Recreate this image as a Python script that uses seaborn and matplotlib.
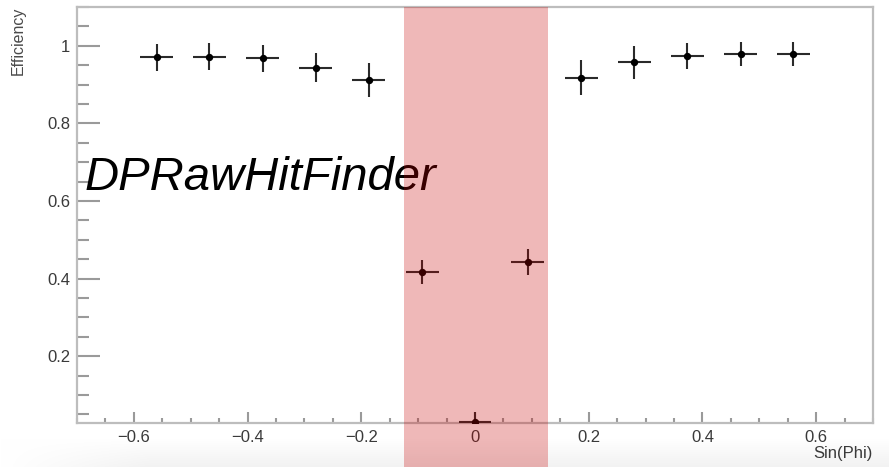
import numpy as np
import pandas as pd
import matplotlib
matplotlib.use("Agg")
import matplotlib.pyplot as plt
import matplotlib.transforms as mtransforms
from matplotlib.patches import Rectangle
from matplotlib.ticker import MultipleLocator
import seaborn as sns

# ---- data ----
sin_phi = [-0.560, -0.467, -0.373, -0.280, -0.187, -0.093, 0.0,
           0.093, 0.187, 0.280, 0.373, 0.467, 0.560]
efficiency = [0.970, 0.972, 0.968, 0.944, 0.912, 0.417, 0.030,
              0.443, 0.918, 0.957, 0.974, 0.979, 0.979]
eff_err = [0.034, 0.034, 0.035, 0.038, 0.044, 0.031, 0.027,
           0.033, 0.045, 0.043, 0.034, 0.030, 0.030]
x_half_width = 0.029
band_range = [-0.125, 0.128]
x_ticks = [-0.6, -0.4, -0.2, 0, 0.2, 0.4, 0.6]
x_tick_labels = ["\u22120.6", "\u22120.4", "\u22120.2", "0", "0.2", "0.4", "0.6"]
y_ticks = [0.2, 0.4, 0.6, 0.8, 1.0]
y_tick_labels = ["0.2", "0.4", "0.6", "0.8", "1"]
x_label = "Sin(Phi)"
y_label = "Efficiency"
annotation = "DPRawHitFinder"

df = pd.DataFrame({"sin_phi": sin_phi, "eff": efficiency, "err": eff_err})

sns.set_style("white")
plt.rcParams["font.family"] = ["Liberation Sans", "DejaVu Sans"]

fig = plt.figure(figsize=(8.89, 4.67), dpi=100)

# subtle screenshot shading at the bottom
bg = fig.add_axes([0, 0, 1, 0.06], zorder=-5)
grad_v = np.linspace(0, 1, 30)[:, None]
grad_h = np.clip(np.linspace(0, 1, 400)[None, :] * 6, 0, 1)
shade = 1 - 0.05 * grad_v * grad_h
bg.imshow(np.dstack([shade, shade, shade]), aspect="auto", origin="upper",
          extent=[0, 1, 0, 1])
bg.set_axis_off()

ax = fig.add_axes([0.0866, 0.0942, 0.8954, 0.8908])
ax.set_facecolor("white")

ax.errorbar(df["sin_phi"], df["eff"], yerr=df["err"], xerr=x_half_width,
            fmt="none", ecolor="#2a2a2a", elinewidth=1.5, capsize=0, zorder=3)
sns.scatterplot(data=df, x="sin_phi", y="eff", ax=ax, color="black",
                s=28, edgecolor="black", linewidth=0, zorder=4, legend=False)

ax.set_xlim(-0.7, 0.7)
ax.set_ylim(0.028, 1.10)

ax.set_xticks(x_ticks)
ax.set_xticklabels(x_tick_labels)
ax.set_yticks(y_ticks)
ax.set_yticklabels(y_tick_labels)
ax.xaxis.set_minor_locator(MultipleLocator(0.05))
ax.yaxis.set_minor_locator(MultipleLocator(0.05))

ax.tick_params(axis="both", which="both", direction="in", colors="#9a9a9a",
               labelcolor="#3a3a3a", labelsize=12, width=1.5,
               bottom=True, left=True, top=False, right=False)
ax.tick_params(axis="y", which="major", length=16.5, pad=5)
ax.tick_params(axis="y", which="minor", length=8.5)
ax.tick_params(axis="x", which="major", length=8, pad=5)
ax.tick_params(axis="x", which="minor", length=3.6)

for sp in ax.spines.values():
    sp.set_visible(True)
    sp.set_color("#bdbdbd")
    sp.set_linewidth(1.6)

ax.set_xlabel("")
ax.set_ylabel("")
fig.text(0.982, 0.028, x_label, ha="right", va="center", fontsize=12,
         color="#3a3a3a")
fig.text(0.021, 0.985, y_label, ha="center", va="top", rotation=90,
         fontsize=11.5, color="#4a4a4a")

ax.text(-0.687, 0.629, annotation, fontsize=34, style="italic",
        ha="left", va="baseline", color="black", zorder=5)

# red band overlay: data x, figure y (from axes top down to figure bottom)
trans = mtransforms.blended_transform_factory(ax.transData, fig.transFigure)
band = Rectangle((band_range[0], 0.0), band_range[1] - band_range[0], 0.985,
                 transform=trans, facecolor=(0.78, 0.0, 0.0), alpha=0.28,
                 edgecolor="none", clip_on=False, zorder=10)
fig.add_artist(band)

fig.savefig("out.png", dpi=100)
